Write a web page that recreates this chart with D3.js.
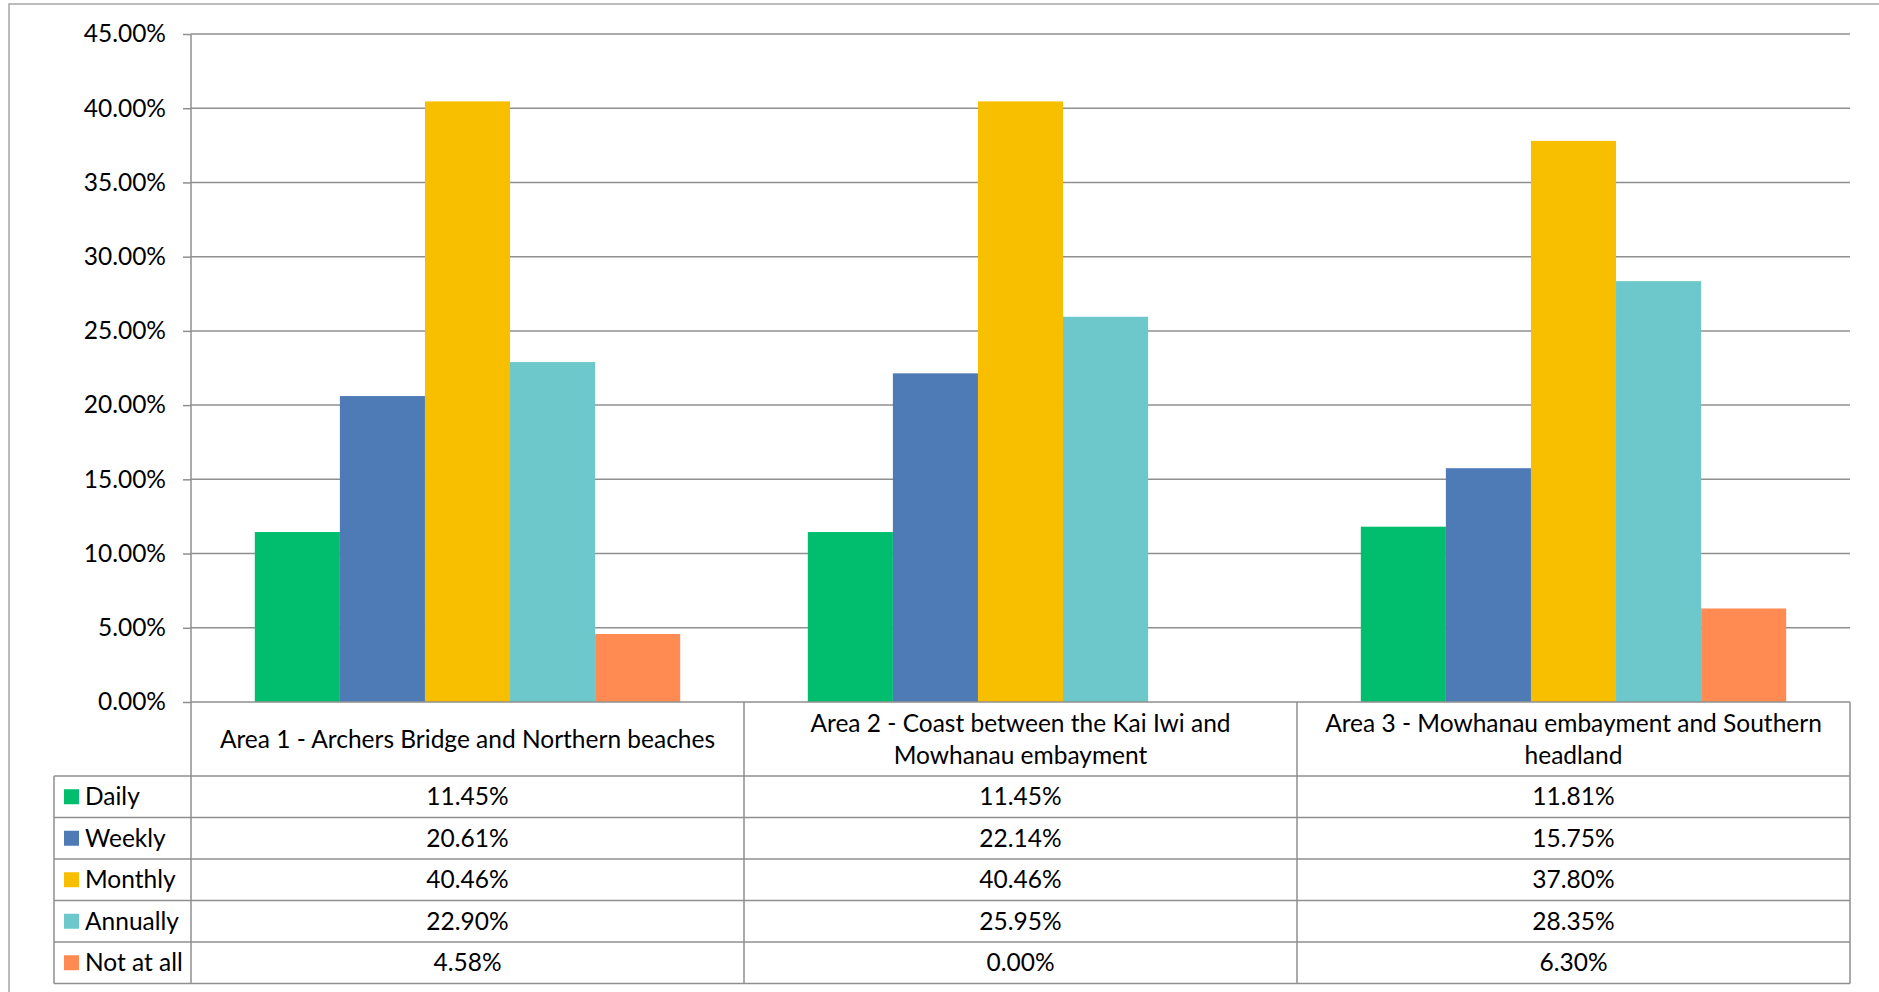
<!DOCTYPE html>
<html><head><meta charset="utf-8">
<script src="https://cdn.jsdelivr.net/npm/d3@7"></script>
<style>body{margin:0;background:#fff}svg{display:block}text{font-family:Lato,"Open Sans",sans-serif;fill:#000}</style>
</head><body>
<script>
const areas = [
  ["Area 1 - Archers Bridge and Northern beaches"],
  ["Area 2 - Coast between the Kai Iwi and", "Mowhanau embayment"],
  ["Area 3 - Mowhanau embayment and Southern", "headland"]
];
const series = ["Daily", "Weekly", "Monthly", "Annually", "Not at all"];
const colors = ["#00BE6E", "#4E7BB5", "#F8BF00", "#6CC8CB", "#FF8A52"];
const daily    = [0.1145, 0.1145, 0.1181];
const weekly   = [0.2061, 0.2214, 0.1575];
const monthly  = [0.4046, 0.4046, 0.3780];
const annually = [0.2290, 0.2595, 0.2835];
const notAtAll = [0.0458, 0.0000, 0.0630];
const values = [daily, weekly, monthly, annually, notAtAll];
const yTicks = [0, 0.05, 0.10, 0.15, 0.20, 0.25, 0.30, 0.35, 0.40, 0.45];

const W = 1879, H = 992;
const FS = 24.5;
const svg = d3.select("body").append("svg").attr("width", W).attr("height", H);
const grid = "#8f8f8f";

// outer frame
svg.append("path").attr("d", `M9,${H} V4 H${W}`).attr("fill","none").attr("stroke","#a6a6a6").attr("stroke-width",1.5);

const areaIdx = areas.map((d,i)=>i);
const x = d3.scaleBand().domain(areaIdx).range([191, 1850]);
const x1 = d3.scaleBand().domain(series).range([0, x.bandwidth()]).paddingInner(0).paddingOuter(0.75);
const y = d3.scaleLinear().domain([0, 0.45]).range([702, 34]);

// gridlines
svg.append("g").selectAll("line").data(yTicks.slice(1)).join("line")
  .attr("x1", 191).attr("x2", 1850).attr("y1", d=>y(d)).attr("y2", d=>y(d))
  .attr("stroke", grid).attr("stroke-width", 1.5);

// bars
const gBars = svg.append("g");
series.forEach((s, si) => {
  gBars.append("g").selectAll("rect").data(values[si]).join("rect")
    .attr("x", (d,i)=> x(i) + x1(s))
    .attr("width", x1.bandwidth())
    .attr("y", d=>y(d))
    .attr("height", d=> y(0)-y(d))
    .attr("fill", colors[si]);
});

// y axis
const yAxis = d3.axisLeft(y).tickValues(yTicks).tickFormat(d=>d3.format(".2%")(d)).tickSize(8).tickPadding(17);
const ga = svg.append("g").attr("transform","translate(191,0)").call(yAxis);
ga.select(".domain").remove();
ga.selectAll(".tick line").attr("stroke", grid).attr("stroke-width",1.5);
ga.selectAll(".tick text").attr("font-size", FS).attr("font-family","Lato").attr("fill","#000");

// table
const rowTop = 776, rowH = 41.5;
const tableBottom = rowTop + rowH*series.length;
const t = svg.append("g");
t.append("line").attr("x1",191).attr("x2",1850).attr("y1",y(0)).attr("y2",y(0)).attr("stroke",grid).attr("stroke-width",1.5);
t.append("line").attr("x1",191).attr("x2",191).attr("y1",y(0.45)).attr("y2",tableBottom).attr("stroke",grid).attr("stroke-width",1.5);
areaIdx.forEach(i=>{
  const xr = x(i)+x.bandwidth();
  t.append("line").attr("x1",xr).attr("x2",xr).attr("y1",y(0)).attr("y2",tableBottom).attr("stroke",grid).attr("stroke-width",1.5);
});
t.append("line").attr("x1",54).attr("x2",54).attr("y1",rowTop).attr("y2",tableBottom).attr("stroke",grid).attr("stroke-width",1.5);
d3.range(series.length+1).forEach(r=>{
  const yy = rowTop + r*rowH;
  t.append("line").attr("x1",54).attr("x2",1850).attr("y1",yy).attr("y2",yy).attr("stroke",grid).attr("stroke-width",1.5);
});
areas.forEach((lines,i)=>{
  const cx = x(i)+x.bandwidth()/2;
  const mid = (y(0)+rowTop)/2;
  const lh = 32;
  lines.forEach((ln,li)=>{
    t.append("text").attr("x",cx).attr("y", mid + (li-(lines.length-1)/2)*lh).attr("dy","0.35em")
      .attr("text-anchor","middle").attr("font-size",FS).text(ln);
  });
});
series.forEach((s,si)=>{
  const cy = rowTop + si*rowH + rowH/2;
  t.append("rect").attr("x",64).attr("y",cy-7.5).attr("width",15).attr("height",15).attr("fill",colors[si]);
  t.append("text").attr("x",85).attr("y",cy).attr("dy","0.35em").attr("font-size",FS).text(s);
  values[si].forEach((v,i)=>{
    t.append("text").attr("x",x(i)+x.bandwidth()/2).attr("y",cy).attr("dy","0.35em")
      .attr("text-anchor","middle").attr("font-size",FS).text(d3.format(".2%")(v));
  });
});
</script>
</body></html>
